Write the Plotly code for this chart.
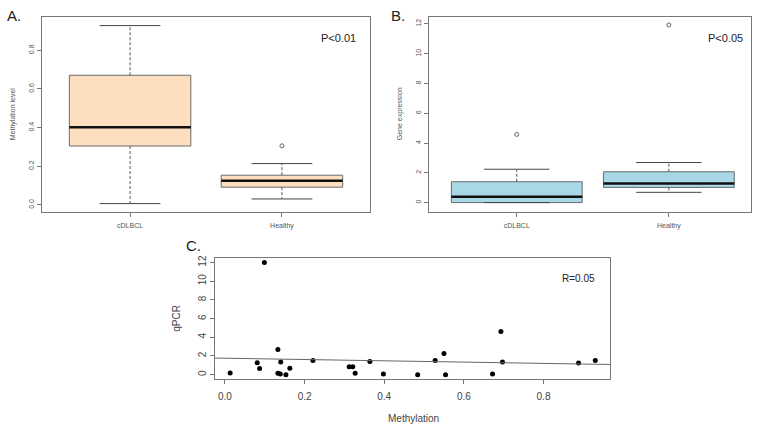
import plotly.graph_objects as go

# ---------------- data ----------------
groups = ["cDLBCL", "Healthy"]

# Panel A: methylation level box statistics
meth_low = [0.007, 0.031]
meth_q1 = [0.305, 0.092]
meth_med = [0.402, 0.125]
meth_q3 = [0.671, 0.154]
meth_high = [0.928, 0.214]
meth_out_group = [2]
meth_out = [0.306]

# Panel B: gene expression box statistics
expr_low = [0.0, 0.69]
expr_q1 = [0.0, 1.02]
expr_med = [0.40, 1.29]
expr_q3 = [1.40, 2.07]
expr_high = [2.24, 2.69]
expr_out_group = [1, 2]
expr_out = [4.58, 11.93]

# Panel C: methylation vs qPCR
scatter_meth = [0.013, 0.081, 0.087, 0.099, 0.133, 0.133, 0.139, 0.140, 0.153, 0.163,
                0.221, 0.312, 0.321, 0.327, 0.364, 0.398, 0.484, 0.528, 0.550, 0.554,
                0.672, 0.693, 0.697, 0.888, 0.930]
scatter_qpcr = [0.17, 1.28, 0.67, 12.0, 2.70, 0.14, 0.07, 1.35, 0.00, 0.70,
                1.53, 0.85, 0.85, 0.14, 1.42, 0.07, 0.00, 1.53, 2.28, 0.00,
                0.07, 4.63, 1.35, 1.24, 1.53]
fit_intercept = 1.76
fit_slope = -0.69

FONT = "Liberation Sans, Arial, sans-serif"
W, H = 761, 428


def px_dom(a, b, total):
    return [a / total, b / total]


def py_dom(top, bottom):
    return [1 - bottom / H, 1 - top / H]


fig = go.Figure()


def add_boxes(xref, yref, low, q1, med, q3, high, out_pos, out_val, width, fill):
    for i in range(len(groups)):
        p = i + 1
        hw = width / 2
        # box
        fig.add_trace(go.Scatter(
            x=[p - hw, p + hw, p + hw, p - hw, p - hw],
            y=[q1[i], q1[i], q3[i], q3[i], q1[i]],
            mode="lines", fill="toself", fillcolor=fill,
            line=dict(color="#6a6a6a", width=1),
            xaxis=xref, yaxis=yref, showlegend=False, hoverinfo="skip"))
        # whiskers (dashed)
        fig.add_trace(go.Scatter(
            x=[p, p, None, p, p], y=[q3[i], high[i], None, q1[i], low[i]],
            mode="lines", line=dict(color="#555", width=1, dash="3px,2px"),
            xaxis=xref, yaxis=yref, showlegend=False, hoverinfo="skip"))
        # staples
        cw = width / 4
        fig.add_trace(go.Scatter(
            x=[p - cw, p + cw, None, p - cw, p + cw],
            y=[high[i], high[i], None, low[i], low[i]],
            mode="lines", line=dict(color="#444", width=1),
            xaxis=xref, yaxis=yref, showlegend=False, hoverinfo="skip"))
        # median
        fig.add_trace(go.Scatter(
            x=[p - hw, p + hw], y=[med[i], med[i]],
            mode="lines", line=dict(color="#111", width=2.5),
            xaxis=xref, yaxis=yref, showlegend=False, hoverinfo="skip"))
    fig.add_trace(go.Scatter(
        x=out_pos, y=out_val, mode="markers",
        marker=dict(symbol="circle-open", size=4, color="#666", line=dict(width=1)),
        xaxis=xref, yaxis=yref, showlegend=False, hoverinfo="skip"))


add_boxes("x", "y", meth_low, meth_q1, meth_med, meth_q3, meth_high,
          meth_out_group, meth_out, 0.8, "#FDDFBF")
add_boxes("x2", "y2", expr_low, expr_q1, expr_med, expr_q3, expr_high,
          expr_out_group, expr_out, 0.86, "#A8D8E6")

# Panel C scatter
fig.add_trace(go.Scatter(
    x=scatter_meth, y=scatter_qpcr, mode="markers",
    marker=dict(color="black", size=5),
    xaxis="x3", yaxis="y3", showlegend=False, hoverinfo="skip"))
xr3 = [-0.025, 0.967]
fig.add_trace(go.Scatter(
    x=xr3, y=[fit_intercept + fit_slope * v for v in xr3], mode="lines",
    line=dict(color="#666", width=1),
    xaxis="x3", yaxis="y3", showlegend=False, hoverinfo="skip"))

axis_common = dict(showline=True, mirror=True, linecolor="#777", linewidth=1,
                   ticks="outside", ticklen=4, tickcolor="#777", showgrid=False,
                   zeroline=False)

small = dict(family=FONT, size=7, color="#555")
mid = dict(family=FONT, size=10, color="#444")

fig.update_layout(
    width=W, height=H, margin=dict(l=0, r=0, t=0, b=0),
    paper_bgcolor="white", plot_bgcolor="white",
    xaxis=dict(domain=px_dom(42, 370, W), range=[0.42, 2.58], tickvals=[1, 2],
               ticktext=groups, tickfont=small, anchor="y", ticklabelstandoff=3,
               **axis_common),
    yaxis=dict(domain=py_dom(14, 210), range=[-0.034, 0.973],
               tickvals=[0, 0.2, 0.4, 0.6, 0.8], ticktext=["0.0", "0.2", "0.4", "0.6", "0.8"],
               tickangle=-90, tickfont=small, anchor="x", **axis_common),
    xaxis2=dict(domain=px_dom(429, 751, W), range=[0.423, 2.54], tickvals=[1, 2],
                ticktext=groups, tickfont=small, anchor="y2", ticklabelstandoff=3,
                **axis_common),
    yaxis2=dict(domain=py_dom(14, 210), range=[-0.6, 12.47],
                tickvals=[0, 2, 4, 6, 8, 10, 12], tickangle=-90, tickfont=small,
                anchor="x2", **axis_common),
    xaxis3=dict(domain=px_dom(215, 610, W), range=xr3,
                tickvals=[0, 0.2, 0.4, 0.6, 0.8], ticktext=["0.0", "0.2", "0.4", "0.6", "0.8"],
                tickfont=mid, anchor="y3", ticklabelstandoff=4, **axis_common),
    yaxis3=dict(domain=py_dom(257, 379), range=[-0.5, 12.47],
                tickvals=[0, 2, 4, 6, 8, 10, 12], tickangle=-90, tickfont=mid,
                anchor="x3", **axis_common),
)

ann = []


def add_text(x, y, text, size, color="#222", angle=0):
    ann.append(dict(x=x / W, y=1 - y / H, xref="paper", yref="paper", text=text,
                    showarrow=False, textangle=angle, xanchor="center", yanchor="middle",
                    font=dict(family=FONT, size=size, color=color)))


add_text(14, 13, "A.", 15)
add_text(398, 13, "B.", 15)
add_text(193, 244, "C.", 15)
add_text(338, 35, "P<0.01", 11)
add_text(725, 35, "P<0.05", 11)
add_text(578, 277, "R=0.05", 10)
add_text(13, 112, "Methylation level", 7, "#555", -90)
add_text(400, 112, "Gene expression", 7, "#555", -90)
add_text(177, 318, "qPCR", 10, "#444", -90)
add_text(413, 418, "Methylation", 10, "#444")
fig.update_layout(annotations=ann)

fig.write_html("out.html",
               config={"displayModeBar": False, "staticPlot": True},
               post_script="document.body.style.margin='0';document.body.style.overflow='hidden';")
